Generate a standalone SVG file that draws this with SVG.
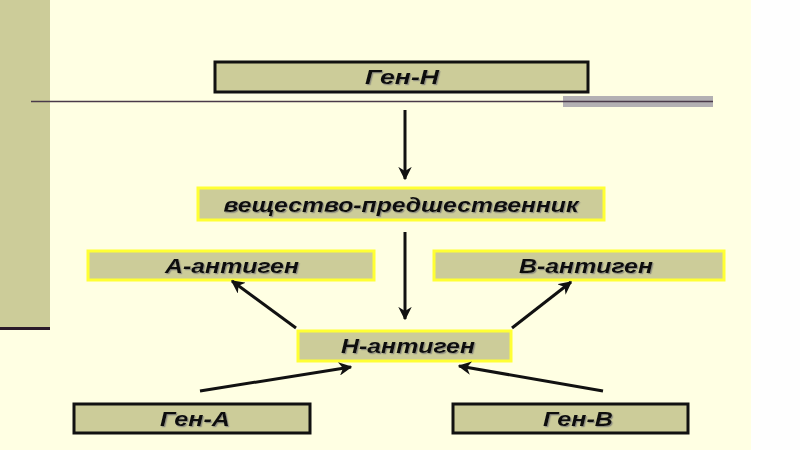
<svg xmlns="http://www.w3.org/2000/svg" width="800" height="450" viewBox="0 0 800 450">
<defs>
<style>
.box{fill:#cccc99;stroke-width:3}
.blk{stroke:#111}
.yel{stroke:#ffff33}
.lbl{font-family:"Liberation Sans",Arial,sans-serif;font-weight:bold;font-style:italic;font-size:20px;fill:#111;text-anchor:middle;dominant-baseline:central;filter:url(#sh)}
.con{stroke:#111;stroke-width:3;fill:none;marker-end:url(#ah)}
</style>
<filter id="sh" x="-10%" y="-30%" width="130%" height="170%">
<feDropShadow dx="1.2" dy="1.2" stdDeviation="0.6" flood-color="#777" flood-opacity="0.7"/>
</filter>
<marker id="ah" viewBox="0 0 10 10" refX="9" refY="5" markerWidth="4.5" markerHeight="4.5" orient="auto" markerUnits="strokeWidth">
<path d="M0,0 L10,5 L0,10 L3,5 Z" fill="#111"/>
</marker>
</defs>
<rect x="0" y="0" width="800" height="450" fill="#fefefe"/>
<rect x="0" y="0" width="751" height="450" fill="#ffffe3"/>
<rect x="0" y="0" width="50" height="328" fill="#cccc99"/>
<rect x="0" y="327" width="50" height="3" fill="#2a1a2a"/>
<rect x="563" y="96" width="150" height="11" fill="#b3b0b3"/>
<line x1="31" y1="101.5" x2="713" y2="101.5" stroke="#4a3a4a" stroke-width="1.5"/>
<g id="gen-h"><rect class="box blk" x="215" y="62" width="373" height="30"/><text class="lbl" x="402" y="77" textLength="74" lengthAdjust="spacingAndGlyphs">Ген-Н</text></g>
<g id="precursor"><rect class="box yel" x="198" y="188" width="406" height="32"/><text class="lbl" x="401" y="205" textLength="355" lengthAdjust="spacingAndGlyphs">вещество-предшественник</text></g>
<g id="a-antigen"><rect class="box yel" x="88" y="251" width="286" height="29"/><text class="lbl" x="232" y="266" textLength="134" lengthAdjust="spacingAndGlyphs">А-антиген</text></g>
<g id="b-antigen"><rect class="box yel" x="434" y="251" width="290" height="29"/><text class="lbl" x="586" y="266" textLength="134" lengthAdjust="spacingAndGlyphs">В-антиген</text></g>
<g id="h-antigen"><rect class="box yel" x="298" y="331" width="213" height="30"/><text class="lbl" x="408" y="346" textLength="134" lengthAdjust="spacingAndGlyphs">Н-антиген</text></g>
<g id="gen-a"><rect class="box blk" x="74" y="404" width="236" height="29"/><text class="lbl" x="195" y="419" textLength="70" lengthAdjust="spacingAndGlyphs">Ген-А</text></g>
<g id="gen-b"><rect class="box blk" x="453" y="404" width="235" height="29"/><text class="lbl" x="578" y="419" textLength="70" lengthAdjust="spacingAndGlyphs">Ген-В</text></g>
<g id="connectors">
<line class="con" x1="405" y1="110" x2="405" y2="179"/>
<line class="con" x1="405" y1="232" x2="405" y2="319"/>
<line class="con" x1="296" y1="328" x2="232" y2="281"/>
<line class="con" x1="512" y1="328" x2="571" y2="282"/>
<line class="con" x1="200" y1="391" x2="351" y2="367"/>
<line class="con" x1="603" y1="391" x2="459" y2="366"/>
</g>
</svg>
